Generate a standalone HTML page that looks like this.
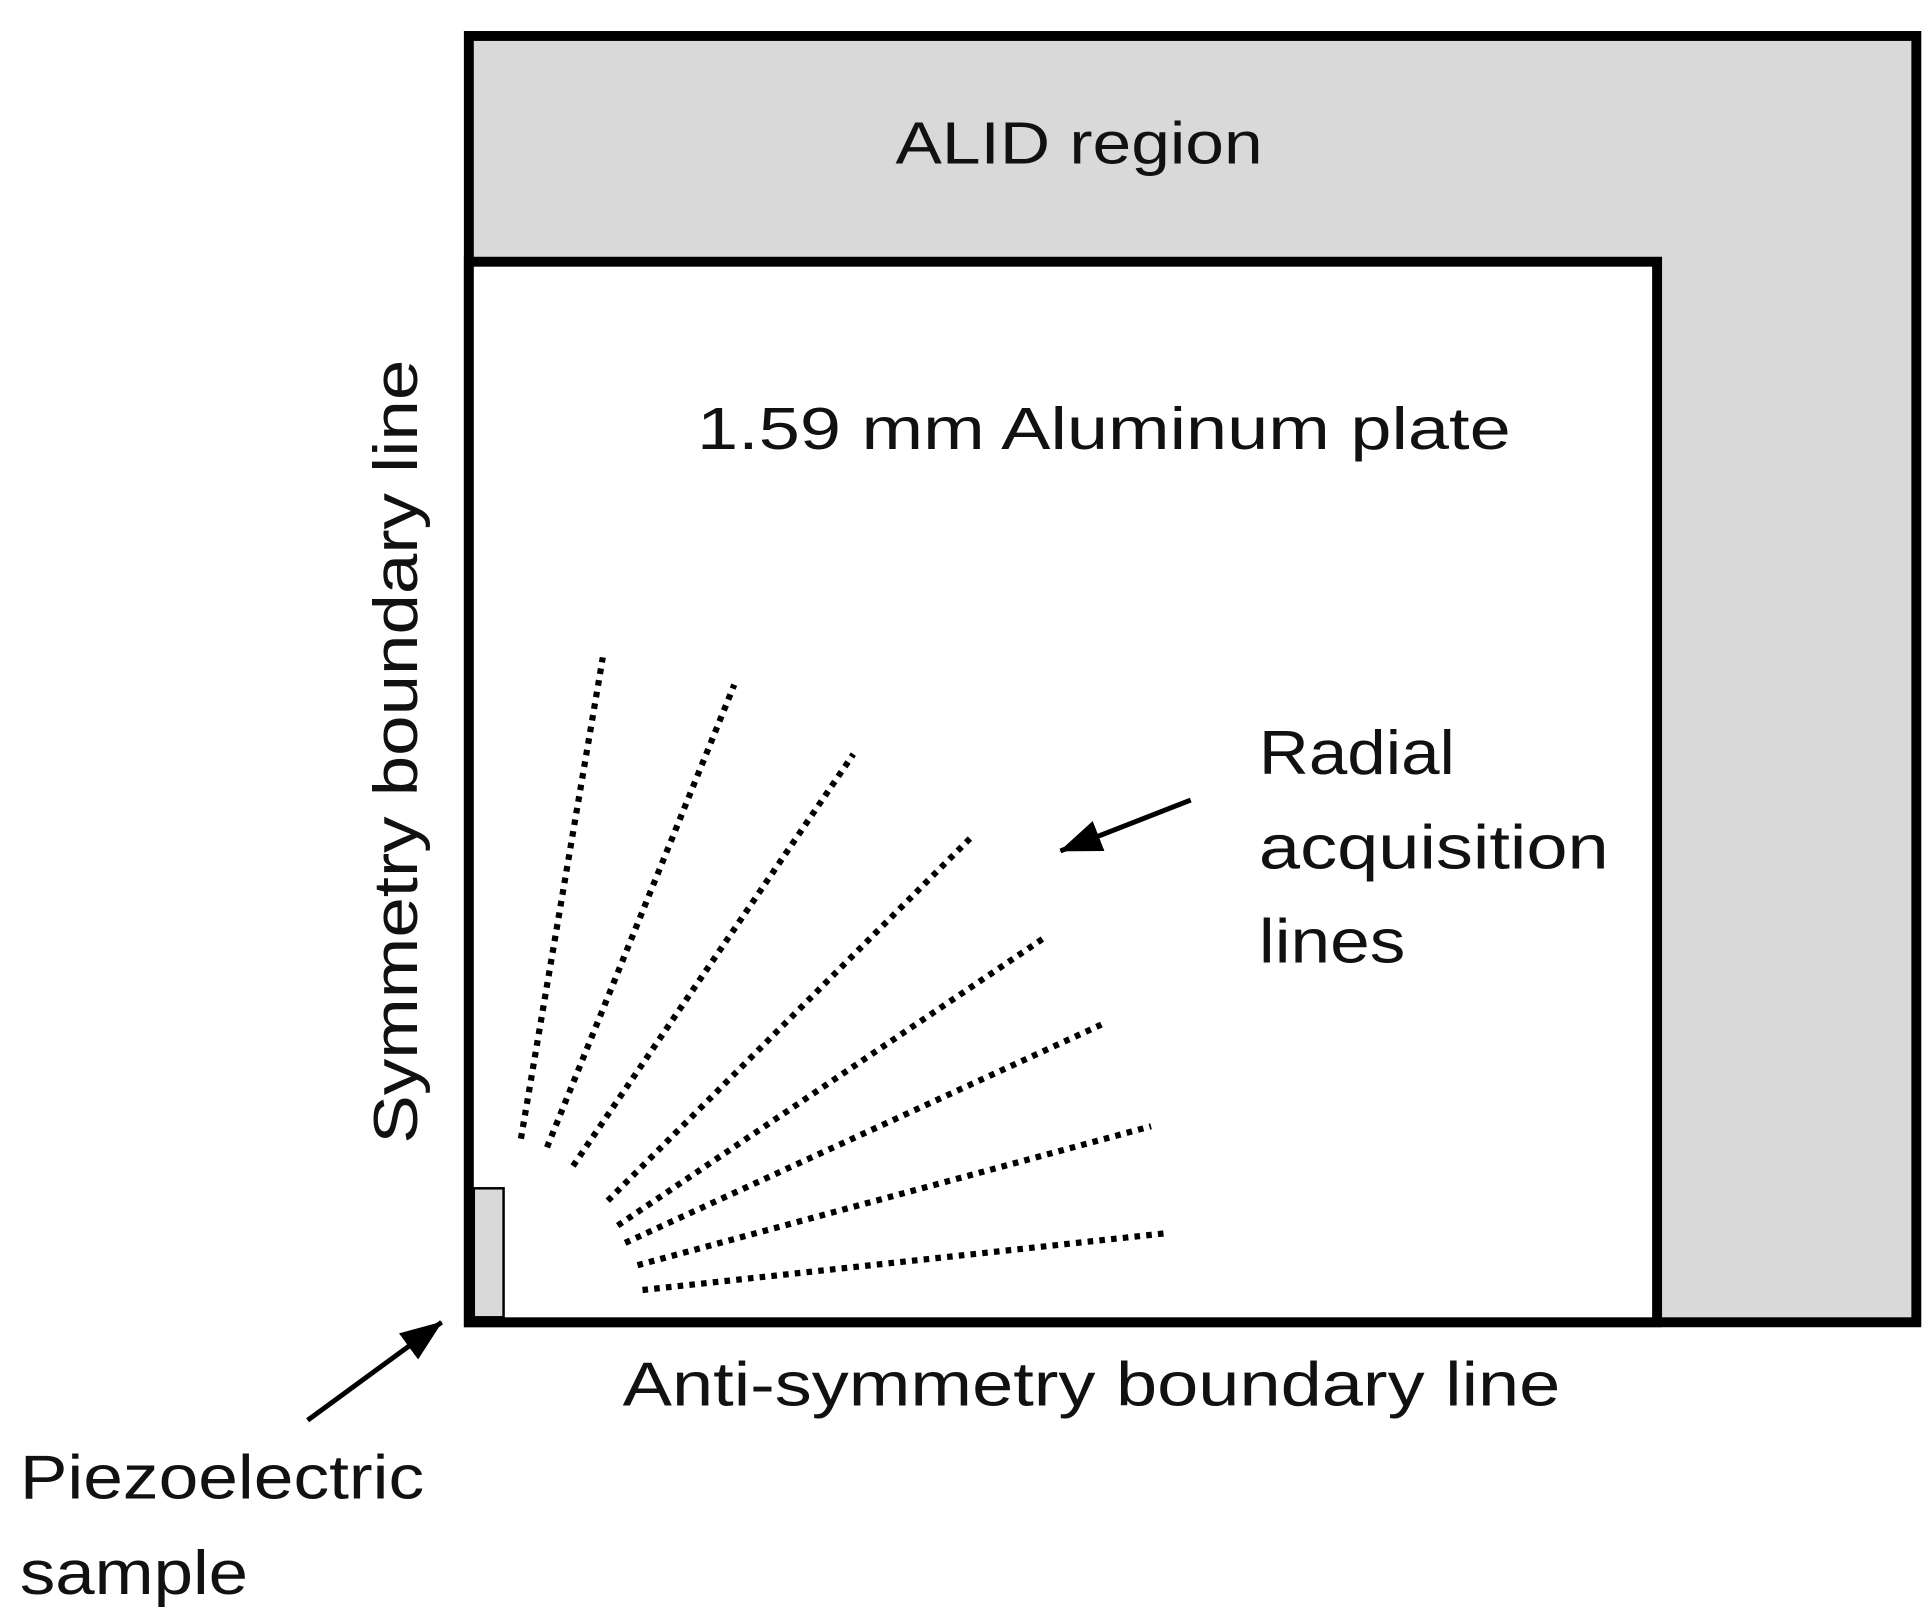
<!DOCTYPE html>
<html><head><meta charset="utf-8"><style>
html,body{margin:0;padding:0;background:#fff}
svg{display:block}
text{font-family:"Liberation Sans",sans-serif;fill:#111}
</style></head><body>
<svg width="1925" height="1615" viewBox="0 0 1552 1302" preserveAspectRatio="none">
<defs>
<marker id="ah2" markerWidth="34" markerHeight="26" refX="33" refY="13" orient="auto" markerUnits="userSpaceOnUse"><path d="M0,0 L34,13 L0,26 Z" fill="#000"/></marker></defs>
<rect x="378" y="29" width="1167" height="1037" fill="#d9d9d9" stroke="#000" stroke-width="8"/>
<rect x="378" y="211" width="958" height="855" fill="#fff" stroke="#000" stroke-width="8"/>
<rect x="382" y="958" width="24" height="104" fill="#d9d9d9" stroke="#000" stroke-width="2"/>
<text x="722" y="132" font-size="48" textLength="296" lengthAdjust="spacingAndGlyphs">ALID region</text>
<text x="562" y="362" font-size="48" textLength="656" lengthAdjust="spacingAndGlyphs">1.59 mm Aluminum plate</text>
<text x="1015" y="624" font-size="50" textLength="158" lengthAdjust="spacingAndGlyphs">Radial</text>
<text x="1015" y="700" font-size="50" textLength="282" lengthAdjust="spacingAndGlyphs">acquisition</text>
<text x="1015" y="776" font-size="50" textLength="118" lengthAdjust="spacingAndGlyphs">lines</text>
<text x="502" y="1133" font-size="50" textLength="756" lengthAdjust="spacingAndGlyphs">Anti-symmetry boundary line</text>
<text x="16" y="1208" font-size="50" textLength="326" lengthAdjust="spacingAndGlyphs">Piezoelectric</text>
<text x="16" y="1285" font-size="50" textLength="184" lengthAdjust="spacingAndGlyphs">sample</text>
<text transform="translate(336,922) rotate(-90)" font-size="50" textLength="632" lengthAdjust="spacingAndGlyphs">Symmetry boundary line</text>
<g stroke="#000" stroke-width="5" stroke-dasharray="4.5 5" fill="none">
<line x1="420" y1="918" x2="486" y2="530"/>
<line x1="441" y1="925" x2="592" y2="552"/>
<line x1="462" y1="940" x2="688" y2="608"/>
<line x1="490" y1="968" x2="782" y2="676"/>
<line x1="498" y1="988" x2="842" y2="756"/>
<line x1="504" y1="1002" x2="888" y2="826"/>
<line x1="514" y1="1020" x2="928" y2="908"/>
<line x1="518" y1="1040" x2="942" y2="994"/>
</g>
<line x1="248" y1="1145" x2="356" y2="1066" stroke="#000" stroke-width="4" marker-end="url(#ah2)"/>
<line x1="960" y1="645" x2="855" y2="686" stroke="#000" stroke-width="4" marker-end="url(#ah2)"/>
</svg>
</body></html>
